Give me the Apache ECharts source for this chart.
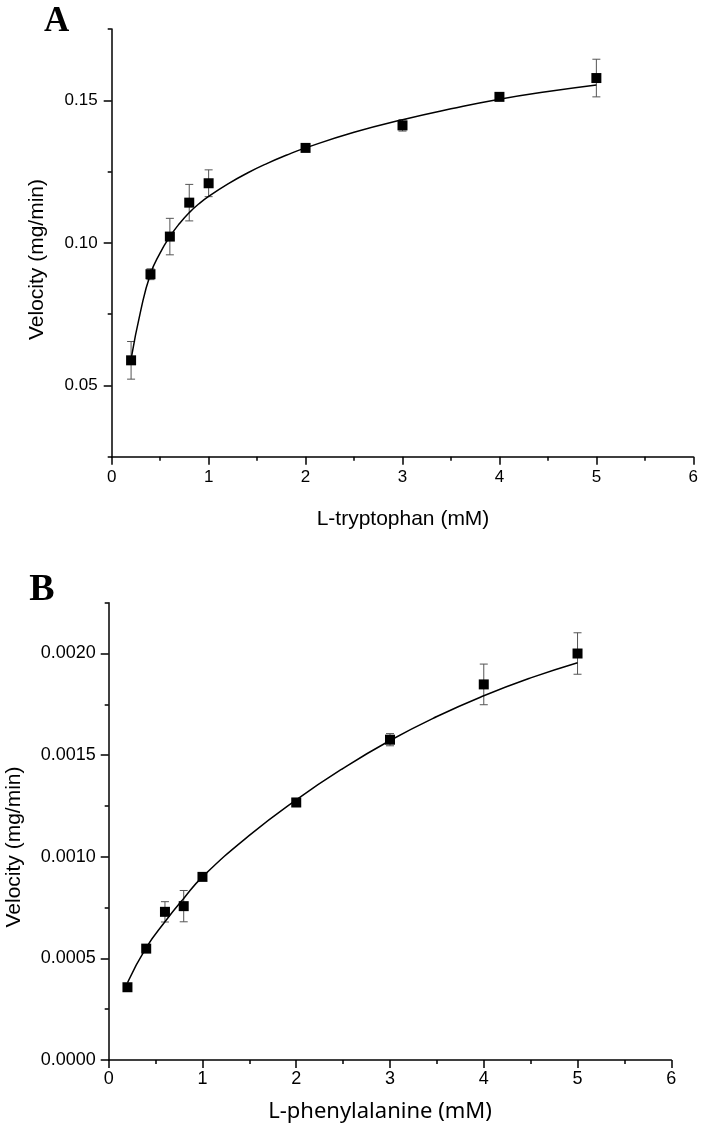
<!DOCTYPE html>
<html>
<head>
<meta charset="utf-8">
<script src="https://cdn.jsdelivr.net/npm/echarts@6/dist/echarts.min.js"></script>
<style>
html,body{margin:0;padding:0;background:#fff;}
#chart{width:704px;height:1134px;}
</style>
</head>
<body>
<div id="chart"></div>
<script>
// ---- Panel A: L-tryptophan ----
const trpConc = [0.2, 0.4, 0.6, 0.8, 1.0, 2, 3, 4, 5];
const trpVel  = [0.0588, 0.0890, 0.1022, 0.1141, 0.1209, 0.1333, 0.1412, 0.1512, 0.1578];
const trpErr  = [0.0066, 0.0019, 0.0064, 0.0064, 0.0047, 0.0008, 0.0020, 0.0008, 0.0066];
const trpFitX = [0.2, 0.3, 0.4, 0.5, 0.6, 0.7, 0.8, 0.9, 1.0, 1.2, 1.4, 1.6, 1.8, 2.0, 2.5, 3.0, 3.5, 4.0, 4.5, 5.0];
const trpFitY = [0.0592, 0.0763, 0.0891, 0.0965, 0.1022, 0.1068, 0.1106, 0.1137, 0.1163, 0.1207, 0.1245, 0.1278, 0.1307, 0.1333, 0.1388, 0.1432, 0.1470, 0.1504, 0.1531, 0.1554];
const trpYMajor = [0.05, 0.10, 0.15];
const trpYMinor = [0.025, 0.075, 0.125, 0.175];

// ---- Panel B: L-phenylalanine ----
const pheConc = [0.2, 0.4, 0.6, 0.8, 1.0, 2, 3, 4, 5];
const pheVel  = [0.000358, 0.000548, 0.000729, 0.000757, 0.000901, 0.001267, 0.001576, 0.001848, 0.002000];
const pheErr  = [0.000010, 0.000010, 0.000050, 0.000077, 0.000010, 0.000020, 0.000030, 0.000100, 0.000102];
const pheFitX = [0.2, 0.4, 0.6, 0.8, 1.0, 1.5, 2.0, 2.5, 3.0, 3.5, 4.0, 4.5, 5.0];
const pheFitY = [0.00038, 0.000553, 0.00068, 0.000795, 0.000901, 0.001105, 0.00128, 0.001435, 0.001572, 0.001690, 0.001792, 0.001880, 0.001955];
const pheYMajor = [0, 0.0005, 0.0010, 0.0015, 0.0020];
const pheYMinor = [0.00025, 0.00075, 0.00125, 0.00175, 0.00225];

function zip3(a, b, c) { return a.map((v, i) => [v, b[i], c[i]]); }
function zip2(a, b) { return a.map((v, i) => [v, b[i]]); }

const fontA = { fontFamily: 'Liberation Sans, Arial, sans-serif', fontSize: 17, color: '#000' };
const fontB = { fontFamily: 'Liberation Sans, Arial, sans-serif', fontSize: 18, color: '#000' };
const axisLine = { show: true, onZero: false, lineStyle: { color: '#000', width: 1.5 } };

function errRender(params, api) {
  const x = api.value(0), y = api.value(1), e = api.value(2);
  const top = api.coord([x, y + e]);
  const bot = api.coord([x, y - e]);
  const hw = 4;
  const st = { stroke: '#555', lineWidth: 1 };
  return {
    type: 'group',
    children: [
      { type: 'line', shape: { x1: top[0], y1: top[1], x2: bot[0], y2: bot[1] }, style: st },
      { type: 'line', shape: { x1: top[0] - hw, y1: top[1], x2: top[0] + hw, y2: top[1] }, style: st },
      { type: 'line', shape: { x1: bot[0] - hw, y1: bot[1], x2: bot[0] + hw, y2: bot[1] }, style: st }
    ]
  };
}

function xAxisCfg(gridIndex, margin, font) {
  return {
    type: 'value', gridIndex, min: 0, max: 6, interval: 1,
    axisLine,
    axisTick: { show: true, length: 8, inside: false, lineStyle: { color: '#000', width: 1.5 } },
    minorTick: { show: true, splitNumber: 2, length: 4, lineStyle: { color: '#000', width: 1.5 } },
    splitLine: { show: false }, minorSplitLine: { show: false },
    axisLabel: Object.assign({ margin, formatter: v => String(v) }, font)
  };
}

function yMajorCfg(gridIndex, min, max, interval, major, digits, margin, font) {
  return {
    type: 'value', gridIndex, min, max, interval,
    axisLine,
    axisTick: { show: true, length: 8, customValues: major, lineStyle: { color: '#000', width: 1.5 } },
    splitLine: { show: false },
    axisLabel: Object.assign({ margin, customValues: major, formatter: v => v.toFixed(digits) }, font)
  };
}
function yMinorCfg(gridIndex, min, max, interval, minor) {
  return {
    type: 'value', gridIndex, min, max, interval, position: 'left',
    axisLine: { show: false, onZero: false },
    axisTick: { show: true, length: 4, customValues: minor, lineStyle: { color: '#000', width: 1.5 } },
    splitLine: { show: false },
    axisLabel: { show: false }
  };
}

const chart = echarts.init(document.getElementById('chart'), null, { renderer: 'canvas' });

const lineStyleFit = { color: '#000', width: 1.5 };
const markStyle = { color: '#000', opacity: 1 };

const option = {
  animation: false,
  backgroundColor: '#fff',
  grid: [
    { left: 111.7, top: 29, width: 581.6, height: 427.7 },
    { left: 108.7, top: 602.7, width: 562.6, height: 457.3 }
  ],
  xAxis: [ xAxisCfg(0, 12, fontA), xAxisCfg(1, 10, fontB) ],
  yAxis: [
    yMajorCfg(0, 0.025, 0.175, 0.025, trpYMajor, 2, 14, fontA),
    yMinorCfg(0, 0.025, 0.175, 0.025, trpYMinor),
    yMajorCfg(1, 0, 0.00225, 0.00025, pheYMajor, 4, 13, fontB),
    yMinorCfg(1, 0, 0.00225, 0.00025, pheYMinor)
  ],
  series: [
    { type: 'custom', xAxisIndex: 0, yAxisIndex: 0, renderItem: errRender, data: zip3(trpConc, trpVel, trpErr), z: 1, silent: true },
    { type: 'line', xAxisIndex: 0, yAxisIndex: 0, data: zip2(trpFitX, trpFitY), smooth: 0.5, showSymbol: false, symbol: 'none',
      lineStyle: lineStyleFit, z: 2, silent: true },
    { type: 'scatter', xAxisIndex: 0, yAxisIndex: 0, data: zip2(trpConc, trpVel), symbol: 'rect', symbolSize: 10,
      itemStyle: markStyle, z: 3, silent: true },

    { type: 'custom', xAxisIndex: 1, yAxisIndex: 2, renderItem: errRender, data: zip3(pheConc, pheVel, pheErr), z: 1, silent: true },
    { type: 'line', xAxisIndex: 1, yAxisIndex: 2, data: zip2(pheFitX, pheFitY), smooth: 0.5, showSymbol: false, symbol: 'none',
      lineStyle: lineStyleFit, z: 2, silent: true },
    { type: 'scatter', xAxisIndex: 1, yAxisIndex: 2, data: zip2(pheConc, pheVel), symbol: 'rect', symbolSize: 10,
      itemStyle: markStyle, z: 3, silent: true }
  ],
  graphic: [
    { type: 'text', x: 56.7, y: 21.5, style: { text: 'A', font: 'bold 35px "Liberation Serif", "Times New Roman", serif', fill: '#000', align: 'center', verticalAlign: 'middle' } },
    { type: 'text', x: 41.8, y: 590, style: { text: 'B', font: 'bold 38px "Liberation Serif", "Times New Roman", serif', fill: '#000', align: 'center', verticalAlign: 'middle' } },
    { type: 'text', x: 37.5, y: 259.5, rotation: Math.PI / 2, style: { text: 'Velocity (mg/min)', font: '21px "Liberation Sans", Arial, sans-serif', fill: '#000', align: 'center', verticalAlign: 'middle' } },
    { type: 'text', x: 14, y: 847, rotation: Math.PI / 2, style: { text: 'Velocity (mg/min)', font: '21px "Liberation Sans", Arial, sans-serif', fill: '#000', align: 'center', verticalAlign: 'middle' } },
    { type: 'text', x: 403, y: 519, style: { text: 'L-tryptophan (mM)', font: '21px "Liberation Sans", Arial, sans-serif', fill: '#000', align: 'center', verticalAlign: 'middle' } },
    { type: 'text', x: 380, y: 1112, style: { text: 'L-phenylalanine (mM)', font: '22px "Noto Sans", sans-serif', fill: '#000', align: 'center', verticalAlign: 'middle' } }
  ]
};
chart.setOption(option);
</script>
</body>
</html>
